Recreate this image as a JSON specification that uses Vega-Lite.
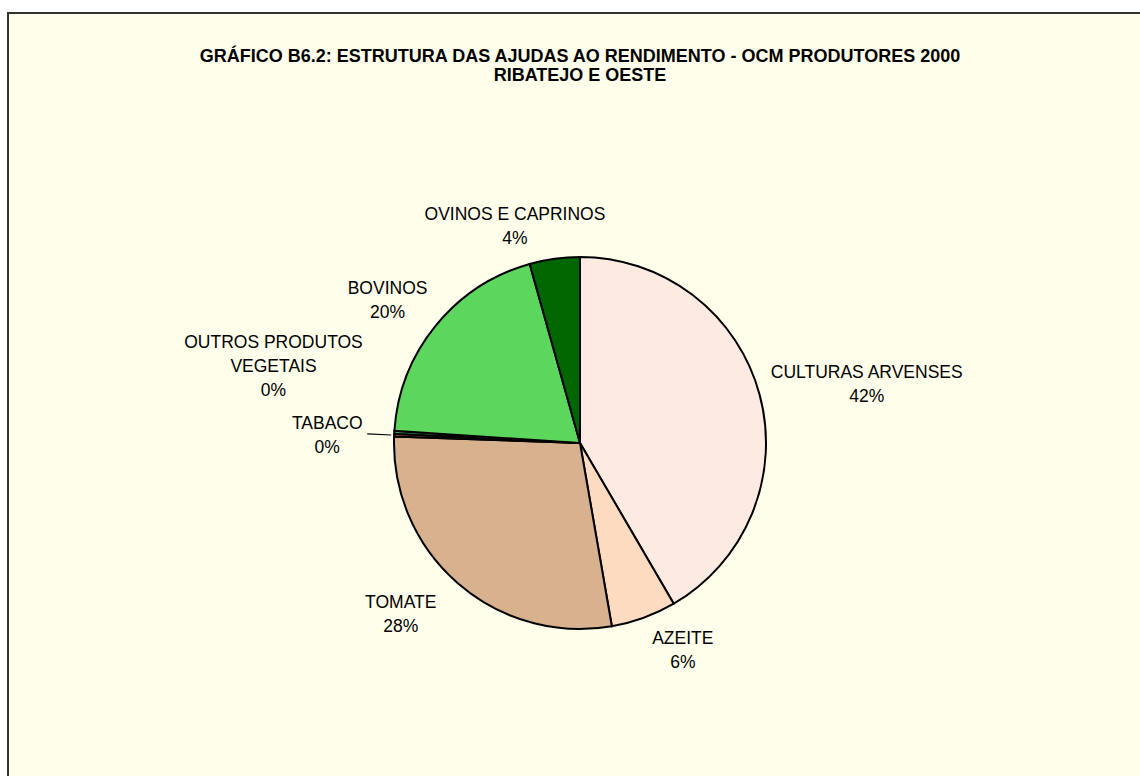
{
  "$schema": "https://vega.github.io/schema/vega-lite/v6.json",
  "autosize": "none",
  "width": 1144,
  "height": 860,
  "padding": {"left": 8, "top": 13, "right": 0, "bottom": 0},
  "background": "white",
  "view": {"fill": "#FFFFEB", "stroke": "#333333", "strokeWidth": 2},
  "config": {
    "view": {"fill": "#FFFFEB", "stroke": "#333333", "strokeWidth": 2},
    "text": {"font": "Liberation Sans", "fontSize": 17.5, "color": "black", "align": "center", "baseline": "middle", "lineBreak": "\n", "lineHeight": 24}
  },
  "title": {
    "text": ["GRÁFICO B6.2: ESTRUTURA DAS AJUDAS AO RENDIMENTO - OCM PRODUTORES 2000", "RIBATEJO E OESTE"],
    "anchor": "middle",
    "frame": "group",
    "orient": "top",
    "baseline": "alphabetic",
    "offset": -86,
    "lineHeight": 19,
    "font": "Liberation Sans",
    "fontSize": 18,
    "fontWeight": "bold",
    "color": "black"
  },
  "data": {
    "values": [
      {"ordem": 1, "categoria": "CULTURAS ARVENSES", "pct": 41.6, "rotulo": "CULTURAS ARVENSES\n42%"},
      {"ordem": 2, "categoria": "AZEITE", "pct": 5.67, "rotulo": "AZEITE\n6%"},
      {"ordem": 3, "categoria": "TOMATE", "pct": 28.3, "rotulo": "TOMATE\n28%"},
      {"ordem": 4, "categoria": "TABACO", "pct": 0.24, "rotulo": "TABACO\n0%"},
      {"ordem": 5, "categoria": "OUTROS PRODUTOS VEGETAIS", "pct": 0.25, "rotulo": "OUTROS PRODUTOS\nVEGETAIS\n0%"},
      {"ordem": 6, "categoria": "BOVINOS", "pct": 19.6, "rotulo": "BOVINOS\n20%"},
      {"ordem": 7, "categoria": "OVINOS E CAPRINOS", "pct": 4.36, "rotulo": "OVINOS E CAPRINOS\n4%"}
    ]
  },
  "encoding": {
    "theta": {"field": "pct", "type": "quantitative", "stack": true},
    "order": {"field": "ordem", "type": "quantitative"}
  },
  "layer": [
    {
      "mark": {"type": "arc", "outerRadius": 186, "stroke": "black", "strokeWidth": 2},
      "encoding": {
        "color": {
          "field": "categoria",
          "type": "nominal",
          "legend": null,
          "scale": {
            "domain": ["CULTURAS ARVENSES", "AZEITE", "TOMATE", "TABACO", "OUTROS PRODUTOS VEGETAIS", "BOVINOS", "OVINOS E CAPRINOS"],
            "range": ["#FDEBE1", "#FDDBC1", "#D8B18E", "#996633", "#339966", "#5CD65C", "#006600"]
          }
        }
      }
    },
    {
      "mark": {"type": "arc", "innerRadius": 189, "outerRadius": 213, "padAngle": 0.007, "fill": "black", "stroke": null},
      "encoding": {
        "opacity": {"condition": {"test": "datum.categoria === 'TABACO'", "value": 1}, "value": 0}
      }
    },
    {
      "mark": {"type": "text", "radius": 297, "dy": 8},
      "encoding": {"text": {"condition": {"test": "datum.categoria === 'CULTURAS ARVENSES'", "field": "rotulo", "type": "nominal"}, "value": ""}}
    },
    {
      "mark": {"type": "text", "radius": 221, "dx": 27, "dy": -12},
      "encoding": {"text": {"condition": {"test": "datum.categoria === 'AZEITE'", "field": "rotulo", "type": "nominal"}, "value": ""}}
    },
    {
      "mark": {"type": "text", "radius": 247, "dx": -17, "dy": -26},
      "encoding": {"text": {"condition": {"test": "datum.categoria === 'TOMATE'", "field": "rotulo", "type": "nominal"}, "value": ""}}
    },
    {
      "mark": {"type": "text", "radius": 253, "dy": -8},
      "encoding": {"text": {"condition": {"test": "datum.categoria === 'TABACO'", "field": "rotulo", "type": "nominal"}, "value": ""}}
    },
    {
      "mark": {"type": "text", "radius": 307, "dy": -82},
      "encoding": {"text": {"condition": {"test": "datum.categoria === 'OUTROS PRODUTOS VEGETAIS'", "field": "rotulo", "type": "nominal"}, "value": ""}}
    },
    {
      "mark": {"type": "text", "radius": 240, "dx": -6, "dy": -3},
      "encoding": {"text": {"condition": {"test": "datum.categoria === 'BOVINOS'", "field": "rotulo", "type": "nominal"}, "value": ""}}
    },
    {
      "mark": {"type": "text", "radius": 220, "dx": -35, "dy": -10},
      "encoding": {"text": {"condition": {"test": "datum.categoria === 'OVINOS E CAPRINOS'", "field": "rotulo", "type": "nominal"}, "value": ""}}
    }
  ]
}
